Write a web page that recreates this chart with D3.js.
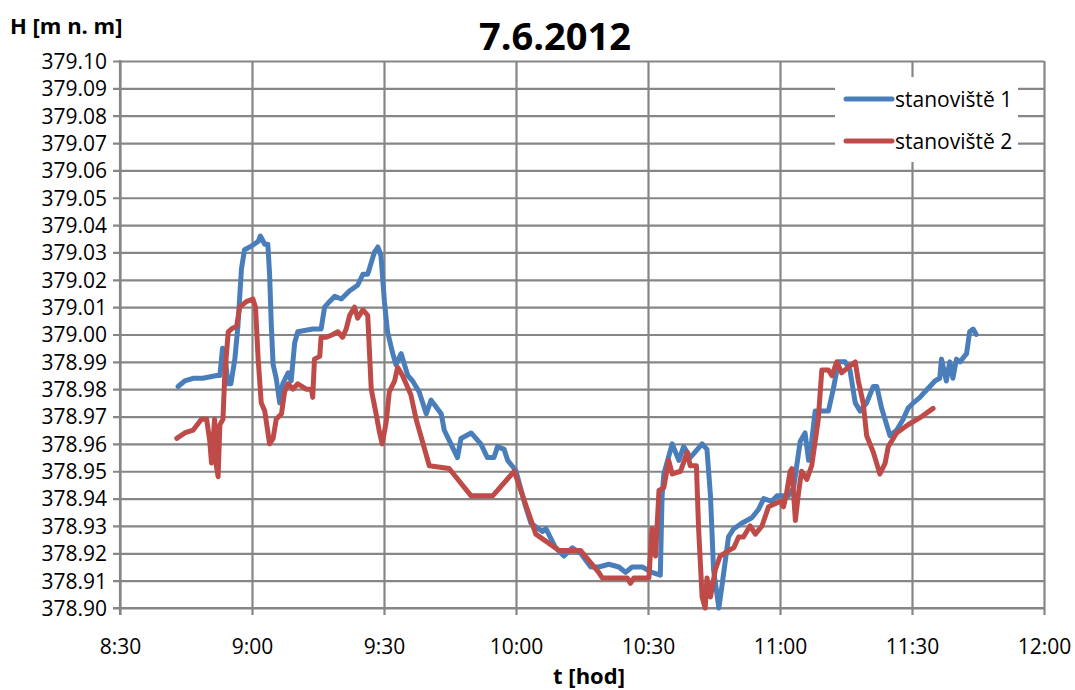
<!DOCTYPE html>
<html><head><meta charset="utf-8">
<script src="https://cdn.jsdelivr.net/npm/d3@7"></script>
<style>body{margin:0;background:#fff}svg{display:block}text{font-family:"Open Sans",sans-serif}</style>
</head><body><div id="chart"></div>
<script>
// time in minutes since midnight, level in m n. m.
const time1 = [523.2,524.7,526.6,528.8,532.0,532.7,533.3,533.8,534.5,535.2,536.1,536.8,537.6,538.3,539.5,541.4,541.9,542.9,543.6,544.0,544.4,544.8,545.5,546.3,547.0,548.2,548.9,549.7,550.4,553.8,555.7,556.5,557.6,558.8,560.3,562.2,564.0,565.2,566.3,567.8,568.6,569.3,570.1,570.8,572.0,572.7,573.9,575.4,576.5,578.0,579.6,580.7,583.0,583.7,585.2,586.7,587.5,589.8,592.0,593.5,595.0,595.8,597.3,598.1,599.6,600.0,602.2,603.4,606.0,606.8,609.0,610.9,612.8,614.7,617.0,618.8,621.1,623.4,624.9,626.4,628.7,630.9,632.8,633.2,633.6,635.5,637.0,638.1,639.6,642.3,643.4,644.2,644.9,646.1,646.8,648.3,649.5,651.3,653.6,655.1,656.3,658.1,659.3,661.2,661.9,663.1,664.6,665.7,666.5,667.2,668.0,669.5,671.0,672.1,673.3,674.8,675.9,677.1,678.2,679.7,681.2,682.0,683.1,685.0,686.5,688.0,689.1,690.3,691.8,692.9,695.2,696.3,696.7,697.8,698.6,699.3,700.1,700.9,702.4,703.1,703.9,704.6];
const level1 = [378.981,378.983,378.984,378.984,378.985,378.985,378.995,378.994,378.982,378.982,378.991,379.003,379.024,379.031,379.032,379.034,379.036,379.033,379.033,379.022,379.003,378.989,378.984,378.975,378.982,378.986,378.983,378.997,379.001,379.002,379.002,379.010,379.012,379.014,379.013,379.016,379.018,379.022,379.022,379.030,379.032,379.029,379.012,379.001,378.993,378.989,378.993,378.985,378.983,378.979,378.971,378.976,378.971,378.965,378.960,378.955,378.962,378.964,378.960,378.955,378.955,378.959,378.958,378.954,378.951,378.950,378.937,378.931,378.928,378.929,378.922,378.919,378.922,378.920,378.915,378.915,378.916,378.915,378.913,378.915,378.915,378.913,378.912,378.941,378.949,378.960,378.954,378.959,378.955,378.960,378.958,378.941,378.914,378.900,378.908,378.926,378.929,378.931,378.933,378.936,378.940,378.939,378.941,378.941,378.941,378.944,378.961,378.964,378.954,378.961,378.972,378.972,378.972,378.980,378.990,378.990,378.987,378.975,378.972,378.975,378.981,378.981,378.973,378.963,378.965,378.969,378.973,378.975,378.977,378.979,378.983,378.984,378.991,378.983,378.990,378.984,378.991,378.990,378.993,379.001,379.002,379.000];
const time2 = [522.9,524.7,526.6,528.5,529.7,530.4,530.8,531.5,531.9,532.3,532.7,533.4,533.8,534.6,535.3,536.5,537.2,538.7,540.2,540.8,541.4,542.1,542.9,544.0,544.8,545.5,546.7,547.4,548.2,549.3,550.4,552.3,553.5,553.8,554.2,555.4,555.7,556.9,558.4,559.5,560.6,561.4,562.2,563.3,564.0,565.2,566.3,567.1,568.2,569.0,569.6,570.5,571.2,572.4,573.1,574.2,576.1,577.3,580.3,584.8,589.8,594.7,599.6,604.5,609.8,614.7,618.8,619.6,625.3,626.0,626.8,630.2,630.9,631.7,632.5,633.6,634.7,635.5,637.4,638.9,639.6,641.0,641.5,642.3,643.0,643.4,644.2,645.3,646.4,648.3,649.5,650.6,651.7,653.2,654.4,655.9,657.4,660.1,660.8,661.5,662.3,662.7,663.5,664.2,664.9,666.1,667.2,668.0,668.7,669.5,671.0,671.8,672.9,674.0,675.5,677.1,677.8,678.9,679.7,681.2,682.7,683.9,684.6,686.5,689.1,692.2,694.8];
const level2 = [378.962,378.964,378.965,378.969,378.969,378.961,378.953,378.969,378.952,378.948,378.967,378.969,378.985,379.001,379.002,379.003,379.010,379.012,379.013,379.010,378.991,378.975,378.972,378.960,378.962,378.969,378.971,378.979,378.982,378.980,378.982,378.980,378.980,378.977,378.991,378.992,378.999,378.999,379.000,379.001,378.999,379.002,379.007,379.010,379.006,379.009,379.007,378.980,378.971,378.964,378.960,378.968,378.979,378.983,378.988,378.985,378.978,378.969,378.952,378.951,378.941,378.941,378.950,378.927,378.921,378.921,378.913,378.911,378.911,378.909,378.911,378.911,378.929,378.919,378.943,378.944,378.954,378.949,378.950,378.957,378.952,378.952,378.929,378.904,378.900,378.911,378.904,378.914,378.919,378.921,378.922,378.926,378.926,378.930,378.927,378.930,378.937,378.939,378.937,378.942,378.950,378.951,378.932,378.942,378.950,378.947,378.952,378.961,378.969,378.987,378.987,378.985,378.990,378.986,378.988,378.990,378.983,378.975,378.963,378.957,378.949,378.953,378.959,378.964,378.967,378.970,378.973];
const seriesNames = ["stanoviště 1", "stanoviště 2"];
const seriesColors = ["#4a7ebb", "#be4b48"];
const xTicks = [510, 540, 570, 600, 630, 660, 690, 720];
const yTicks = d3.range(0, 21).map(i => +(378.90 + i * 0.01).toFixed(2));
const title = "7.6.2012", yTitle = "H [m n. m]", xTitle = "t [hod]";

const W = 1075, H = 690;
const L = 120, R = 1044, T = 61, B = 608;
const svg = d3.select("#chart").append("svg").attr("width", W).attr("height", H);
svg.append("rect").attr("width", W).attr("height", H).attr("fill", "#fff");

const x = d3.scaleLinear().domain([510, 720]).range([L, R]);
const y = d3.scaleLinear().domain([378.90, 379.10]).range([B, T]);
const grid = "#868686";

const xAxis = d3.axisBottom(x).tickValues(xTicks).tickSize(-(B - T) - 7)
  .tickFormat(d => Math.floor(d / 60) + ":" + String(d % 60).padStart(2, "0"));
const gx = svg.append("g").attr("transform", `translate(0,${B + 7})`).call(xAxis);
gx.select(".domain").remove();
gx.selectAll("line").attr("stroke", grid).attr("stroke-width", 2.2);
gx.selectAll("text").attr("font-size", 21).attr("fill", "#000").attr("dy", 0).attr("y", 39);

const yAxis = d3.axisLeft(y).tickValues(yTicks).tickSize(-(R - L) - 7).tickFormat(d3.format(".2f"));
const gy = svg.append("g").attr("transform", `translate(${L - 7},0)`).call(yAxis);
gy.select(".domain").remove();
gy.selectAll("line").attr("stroke", grid).attr("stroke-width", 2.2);
gy.selectAll("text").attr("font-size", 21).attr("fill", "#000").attr("x", -6).attr("dy", "0.35em");

svg.append("line").attr("x1", L).attr("x2", L).attr("y1", T - 1).attr("y2", B + 7).attr("stroke", grid).attr("stroke-width", 2.2);
svg.append("line").attr("x1", L - 7).attr("x2", R + 1).attr("y1", B).attr("y2", B).attr("stroke", grid).attr("stroke-width", 2.2);

const lg = svg.append("g");
lg.append("rect").attr("x", 835).attr("y", 77).attr("width", 183).attr("height", 85).attr("fill", "#fff");

const line = d3.line().x(d => x(d[0])).y(d => y(d[1]));
const data = [d3.zip(time1, level1), d3.zip(time2, level2)];
data.forEach((d, i) => {
  svg.append("path").datum(d).attr("d", line).attr("fill", "none")
    .attr("stroke", seriesColors[i]).attr("stroke-width", 5)
    .attr("stroke-linejoin", "round").attr("stroke-linecap", "round");
});

seriesNames.forEach((n, i) => {
  const yy = 99 + i * 42;
  lg.append("line").attr("x1", 846).attr("x2", 892).attr("y1", yy).attr("y2", yy)
    .attr("stroke", seriesColors[i]).attr("stroke-width", 5).attr("stroke-linecap", "round");
  lg.append("text").attr("x", 895).attr("y", yy + 7.5).attr("font-size", 21).text(n);
});

svg.append("text").attr("x", 555).attr("y", 50).attr("text-anchor", "middle")
  .attr("font-size", 38).attr("font-weight", "bold").text(title);
svg.append("text").attr("x", 10).attr("y", 34).attr("font-size", 22).attr("font-weight", "bold").text(yTitle);
svg.append("text").attr("x", 589).attr("y", 684).attr("text-anchor", "middle")
  .attr("font-size", 22).attr("font-weight", "bold").text(xTitle);
</script></body></html>
